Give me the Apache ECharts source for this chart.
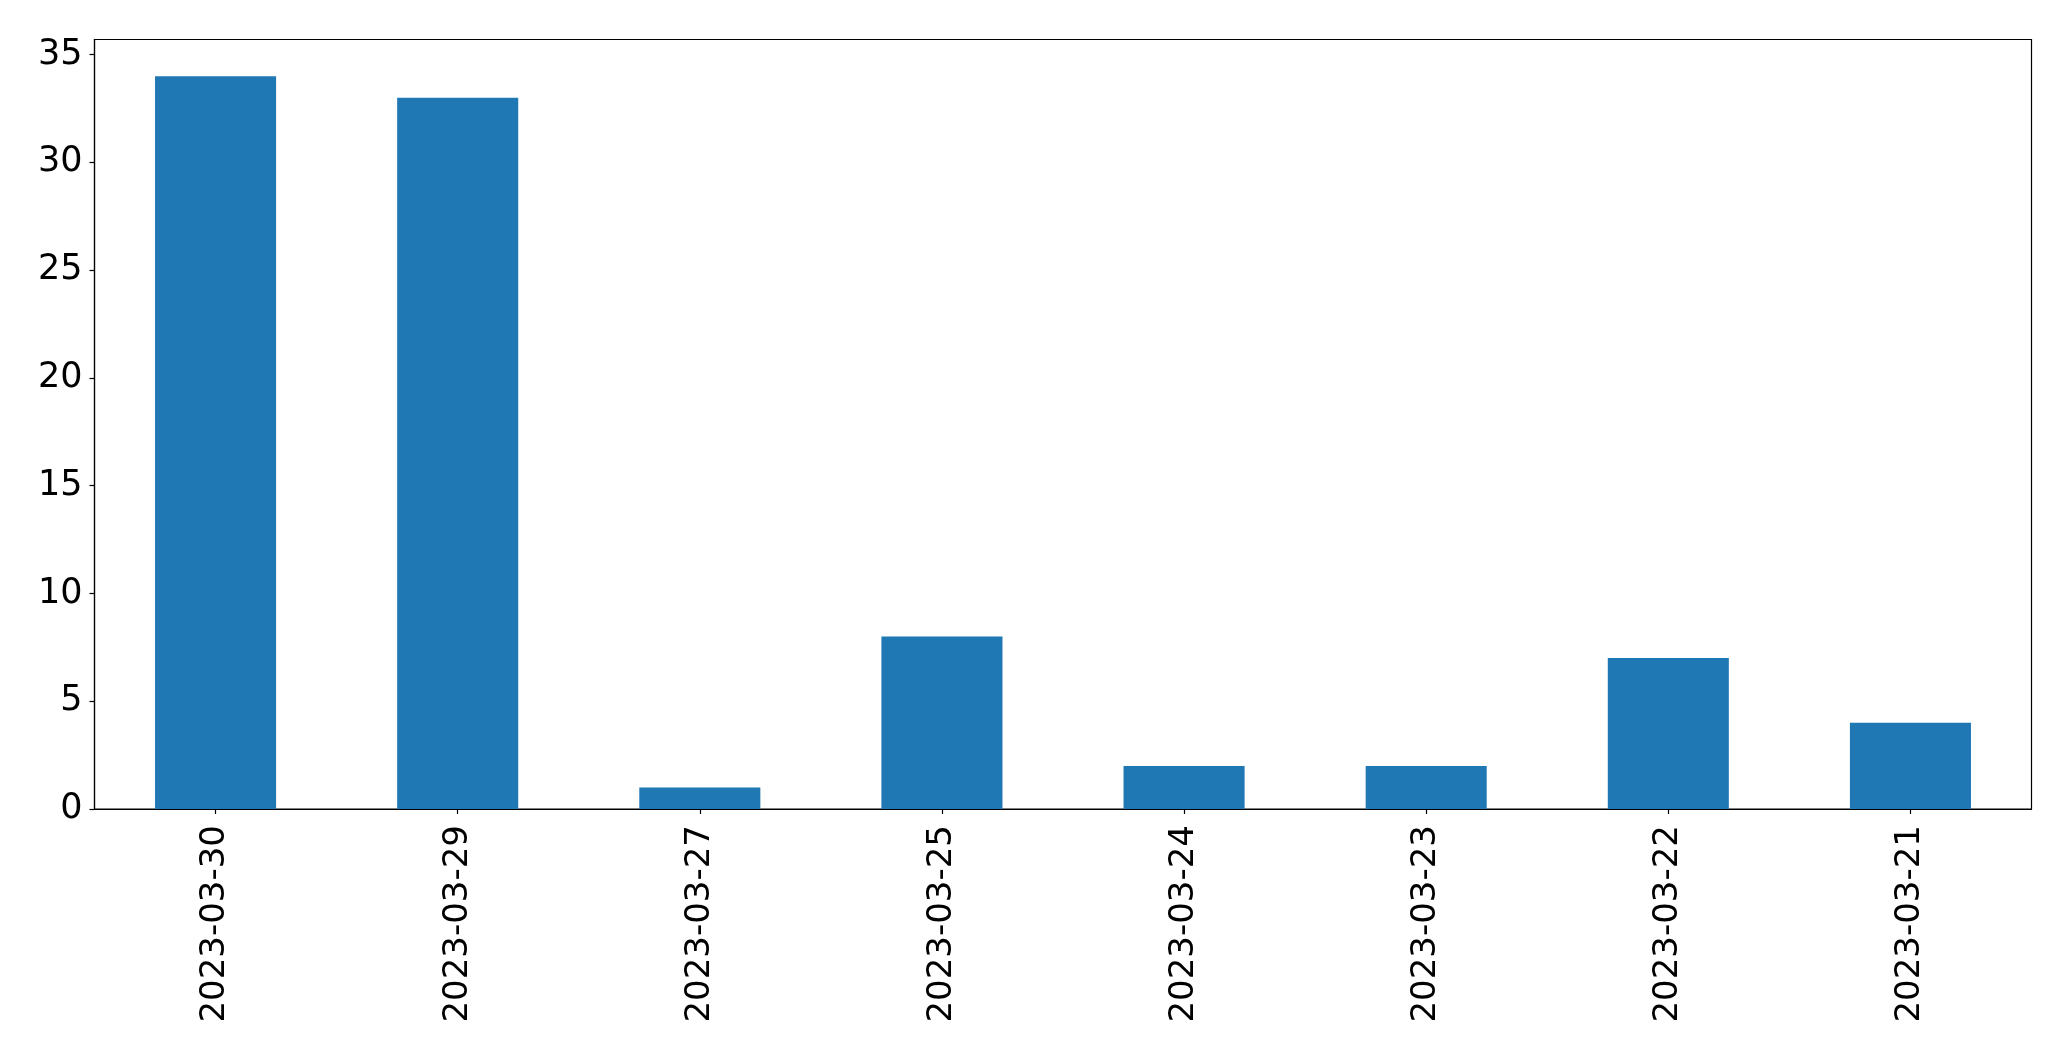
<!DOCTYPE html>
<html>
<head>
<meta charset="utf-8">
<script src="https://cdn.jsdelivr.net/npm/echarts@6/dist/echarts.min.js"></script>
<style>
html,body{margin:0;padding:0;background:#fff;}
#chart{width:2071px;height:1061px;}
</style>
</head>
<body>
<div id="chart"></div>
<script>
const categories = ['2023-03-30','2023-03-29','2023-03-27','2023-03-25','2023-03-24','2023-03-23','2023-03-22','2023-03-21'];
const values = [34, 33, 1, 8, 2, 2, 7, 4];
const yTicks = [0, 5, 10, 15, 20, 25, 30, 35];

const chart = echarts.init(document.getElementById('chart'), null, {renderer: 'canvas'});
const font = 'DejaVu Sans';
chart.setOption({
  animation: false,
  backgroundColor: '#ffffff',
  grid: {
    left: 94.5, top: 39.5, right: 39.5, bottom: 252,
    show: true, borderColor: '#000', borderWidth: 1.2, backgroundColor: 'transparent'
  },
  xAxis: {
    type: 'category',
    data: categories,
    boundaryGap: true,
    axisLine: {show: true, lineStyle: {color: '#000', width: 1.2}},
    axisTick: {show: true, alignWithLabel: true, length: 5, lineStyle: {color: '#000', width: 1.2}},
    axisLabel: {rotate: 90, margin: 16, fontFamily: font, fontSize: 34, color: '#000', interval: 0},
    splitLine: {show: false}
  },
  yAxis: {
    type: 'value',
    min: 0,
    max: 35.7,
    interval: 5,
    axisLine: {show: true, lineStyle: {color: '#000', width: 1.2}},
    axisTick: {show: true, length: 5, lineStyle: {color: '#000', width: 1.2}, customValues: yTicks},
    axisLabel: {margin: 12, fontFamily: font, fontSize: 35, color: '#000', customValues: yTicks, lineHeight: 40, verticalAlign: 'middle', padding: [5, 0, 0, 0]},
    splitLine: {show: false}
  },
  series: [{
    type: 'bar',
    data: values,
    barWidth: '50%',
    itemStyle: {color: '#1f77b4'}
  }]
});
</script>
</body>
</html>
